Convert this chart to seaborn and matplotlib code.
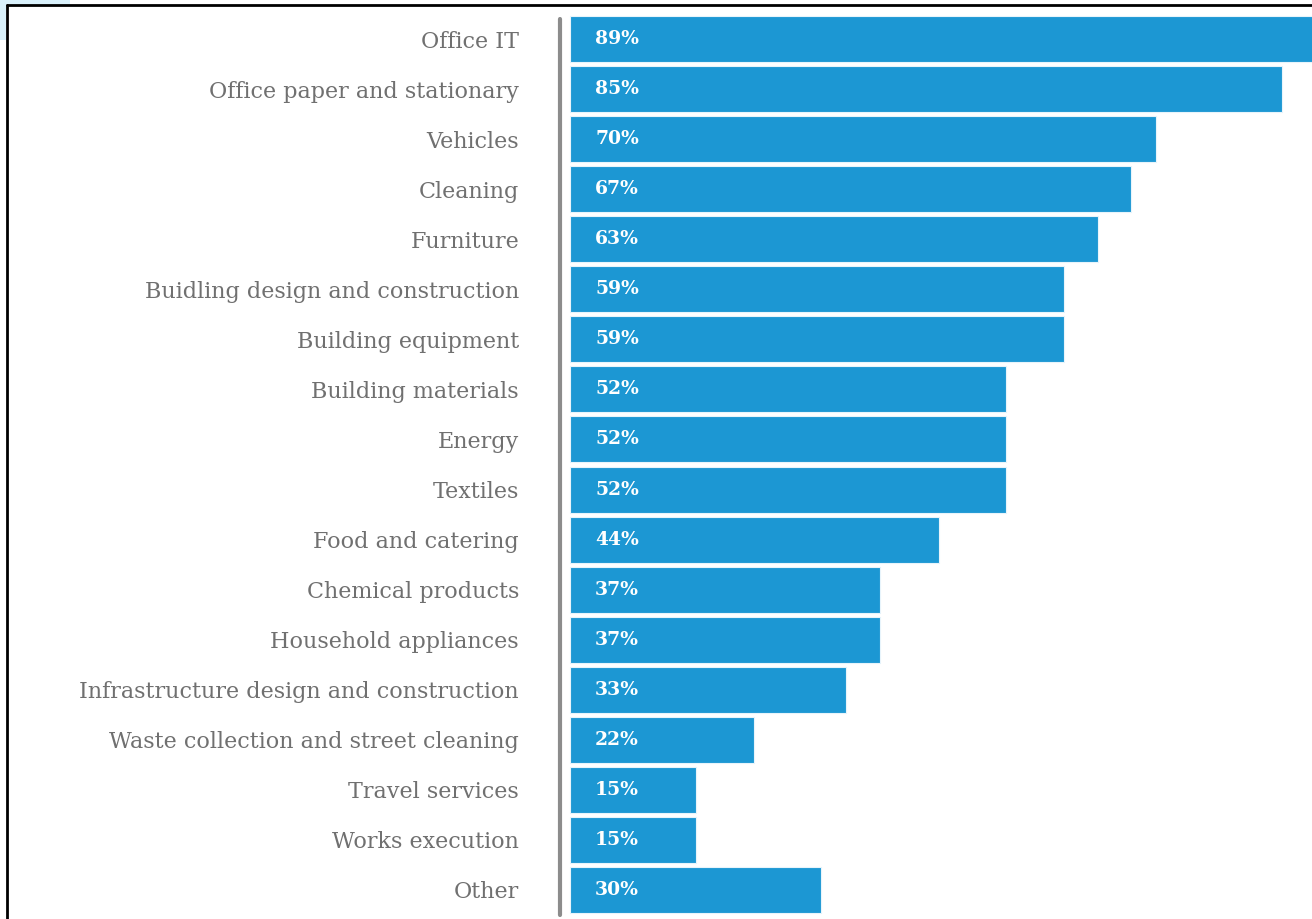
import pandas as pd
import matplotlib.pyplot as plt
import seaborn as sns
from matplotlib.lines import Line2D
from matplotlib.patches import Rectangle

categories = [
    "Office IT", "Office paper and stationary", "Vehicles", "Cleaning",
    "Furniture", "Buidling design and construction", "Building equipment",
    "Building materials", "Energy", "Textiles", "Food and catering",
    "Chemical products", "Household appliances",
    "Infrastructure design and construction",
    "Waste collection and street cleaning", "Travel services",
    "Works execution", "Other",
]
values = [89, 85, 70, 67, 63, 59, 59, 52, 52, 52, 44, 37, 37, 33, 22, 15, 15, 30]

df = pd.DataFrame({"cat": categories, "val": values})

sns.set_style("white")
plt.rcParams["font.family"] = ["DejaVu Serif", "DejaVu Sans"]

W, H = 1312, 919
fig = plt.figure(figsize=(W / 100, H / 100), dpi=100)
fig.patch.set_facecolor("white")

# axes: left edge at gray line, data 0 at x=570
ax_left, ax_top, ax_bottom = 558, 14, 915
ax = fig.add_axes([ax_left / W, 1 - ax_bottom / H, (W - ax_left) / W, (ax_bottom - ax_top) / H])

bar_color = "#1c97d3"
sns.barplot(data=df, y="cat", x="val", orient="h", color=bar_color,
            saturation=1, width=0.92, edgecolor="#e8f4fb", linewidth=0.8, ax=ax)

px = (1282 - 570) / 85
xmin = -(570 - ax_left) / px
xmax = (W - 570) / px
ax.set_xlim(xmin, xmax)
ax.set_ylim(len(categories) - 0.5, -0.5)

ax.axvline(xmin + 0.2, ymin=0, ymax=0.995, color="#8c8c8c", linewidth=3, clip_on=False)

for i, v in enumerate(values):
    ax.text(3.0, i, f"{v}%", color="white", fontweight="bold", fontsize=13.5,
            va="center", ha="left")

for s in ax.spines.values():
    s.set_visible(False)
ax.set_xticks([])
ax.set_xlabel("")
ax.set_ylabel("")
ax.tick_params(axis="y", length=0, pad=28, labelsize=16, labelcolor="#707070")

# frame of the clipped picture
fig.add_artist(Rectangle((0, 1 - 5 / H), 70 / W, 5 / H, transform=fig.transFigure,
                         facecolor="#d9f1fb", edgecolor="none"))
fig.add_artist(Rectangle((0, 1 - 40 / H), 6 / W, 35 / H, transform=fig.transFigure,
                         facecolor="#d9f1fb", edgecolor="none"))
fig.add_artist(Line2D([7 / W, 1], [1 - 5 / H, 1 - 5 / H], transform=fig.transFigure,
                      color="black", linewidth=2))
fig.add_artist(Line2D([7 / W, 7 / W], [0, 1 - 5 / H], transform=fig.transFigure,
                      color="black", linewidth=2))

fig.savefig("out.png", dpi=100)
